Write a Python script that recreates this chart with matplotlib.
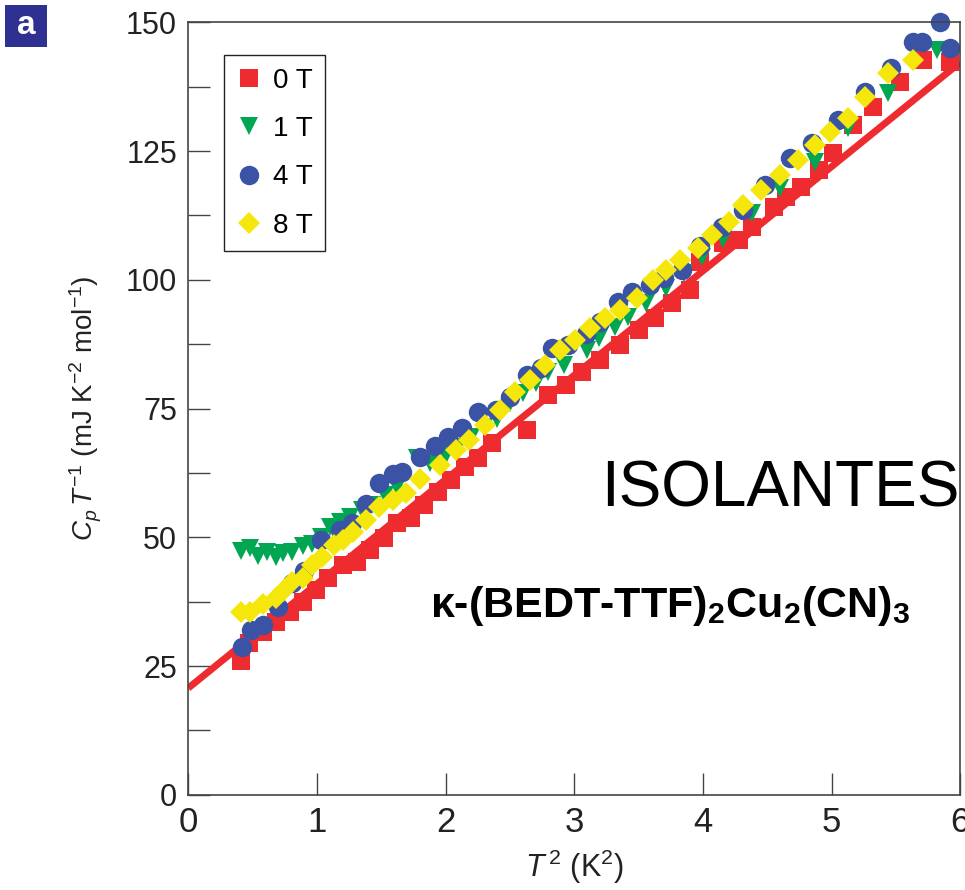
import matplotlib
matplotlib.use("Agg")
import matplotlib.pyplot as plt
import numpy as np
from matplotlib.lines import Line2D
from matplotlib.patches import Rectangle

plt.rcParams['font.family'] = ['Liberation Sans', 'DejaVu Sans']
plt.rcParams['mathtext.fontset'] = 'custom'
plt.rcParams['mathtext.rm'] = 'Liberation Sans'
plt.rcParams['mathtext.it'] = 'Liberation Sans:italic'
plt.rcParams['mathtext.bf'] = 'Liberation Sans:bold'

# ---- data (T^2 in K^2, Cp/T in mJ K^-2 mol^-1) ----
x_0T = [0.41, 0.47, 0.58, 0.68, 0.79, 0.89, 0.99, 1.09, 1.20, 1.31, 1.41, 1.52, 1.62, 1.73,
        1.83, 1.94, 2.04, 2.15, 2.25, 2.36, 2.63, 2.80, 2.94, 3.06, 3.20, 3.36, 3.50, 3.63,
        3.76, 3.90, 3.98, 4.16, 4.28, 4.38, 4.55, 4.65, 4.76, 4.90, 5.01, 5.17, 5.32, 5.53,
        5.71, 5.92]
y_0T = [26.0, 29.5, 31.6, 33.6, 35.5, 37.5, 39.8, 42.1, 44.6, 45.2, 47.5, 49.9, 52.8, 53.8,
        56.3, 58.8, 61.1, 63.6, 65.4, 68.3, 70.8, 77.6, 79.6, 82.1, 84.4, 87.3, 90.2, 92.6,
        95.5, 98.0, 103.4, 107.1, 107.8, 110.2, 114.1, 116.0, 118.0, 121.3, 124.6, 130.0,
        133.5, 138.4, 142.6, 142.2]

x_1T = [0.41, 0.48, 0.54, 0.61, 0.68, 0.74, 0.81, 0.89, 0.96, 1.03, 1.10, 1.18, 1.26, 1.35,
        1.43, 1.53, 1.62, 1.78, 1.88, 2.00, 2.10, 2.20, 2.30, 2.40, 2.50, 2.60, 2.70, 2.80,
        2.92, 3.10, 3.19, 3.32, 3.42, 3.56, 3.71, 3.85, 3.99, 4.16, 4.38, 4.60, 4.87, 5.13,
        5.44, 5.82]
y_1T = [47.3, 47.9, 46.4, 47.1, 46.2, 47.0, 47.2, 48.3, 48.7, 50.0, 52.0, 53.0, 54.0, 55.3,
        56.3, 58.2, 59.8, 65.4, 64.4, 66.0, 67.5, 69.5, 71.5, 73.0, 76.0, 78.0, 80.0, 82.0,
        83.4, 86.4, 88.7, 90.9, 92.8, 95.5, 98.4, 101.3, 104.5, 108.0, 112.9, 117.8, 122.8,
        129.4, 136.2, 144.6]

x_4T = [0.42, 0.49, 0.58, 0.70, 0.81, 0.90, 1.03, 1.18, 1.27, 1.38, 1.48, 1.59, 1.66, 1.80,
        1.92, 2.02, 2.13, 2.25, 2.39, 2.50, 2.63, 2.74, 2.83, 2.95, 3.09, 3.20, 3.34, 3.45,
        3.59, 3.70, 3.84, 3.98, 4.15, 4.31, 4.48, 4.68, 4.85, 5.05, 5.26, 5.46, 5.63, 5.70,
        5.84, 5.92]
y_4T = [28.7, 32.0, 33.0, 36.5, 41.1, 43.5, 49.5, 51.4, 52.8, 56.5, 60.5, 62.3, 62.7, 65.5,
        67.7, 69.5, 71.2, 74.3, 74.7, 77.2, 81.5, 82.9, 86.7, 87.3, 89.5, 91.8, 95.7, 97.6,
        99.0, 100.3, 101.9, 106.5, 110.2, 113.5, 118.4, 123.6, 126.5, 131.0, 136.4, 141.1,
        146.1, 146.1, 150.0, 145.0]

x_8T = [0.41, 0.48, 0.58, 0.68, 0.74, 0.81, 0.89, 0.96, 1.04, 1.13, 1.20, 1.28, 1.38, 1.48,
        1.59, 1.69, 1.80, 1.96, 2.08, 2.18, 2.31, 2.42, 2.54, 2.66, 2.77, 2.89, 3.01, 3.12,
        3.24, 3.36, 3.49, 3.61, 3.71, 3.82, 3.96, 4.07, 4.20, 4.31, 4.45, 4.60, 4.74, 4.87,
        4.99, 5.13, 5.26, 5.44, 5.63]
y_8T = [35.5, 35.5, 37.0, 38.2, 39.5, 41.3, 42.1, 44.6, 46.2, 48.5, 49.5, 51.0, 53.4, 55.9,
        57.2, 58.6, 61.3, 64.0, 67.0, 68.9, 71.8, 74.7, 78.2, 80.5, 83.4, 86.4, 88.3, 90.6,
        92.6, 94.1, 96.4, 99.9, 101.9, 103.8, 106.2, 108.7, 111.2, 114.5, 117.4, 120.3,
        123.2, 126.1, 128.7, 131.4, 135.5, 140.1, 142.6]

fit_x = [0.0, 6.0]
fit_y = [20.7, 142.2]

labels = ['0 T', '1 T', '4 T', '8 T']
colors = ['#ee2b2f', '#00a651', '#3a53a4', '#f5e60c']
markers = ['s', 'v', 'o', 'D']
sizes = [13, 13, 14, 11]

fig = plt.figure(figsize=(9.65, 8.9), dpi=100)
ax = fig.add_axes([0.195, 0.107, 0.8, 0.868])

series = [(x_0T, y_0T), (x_1T, y_1T), (x_4T, y_4T), (x_8T, y_8T)]
for i, ((xs, ys), c, m, s) in enumerate(zip(series, colors, markers, sizes)):
    ax.plot(xs, ys, linestyle='none', marker=m, markersize=s, color=c,
            markeredgewidth=0, clip_on=False)
    if i == 0:
        ax.plot(fit_x, fit_y, color=c, linewidth=5, solid_capstyle='butt')

ax.set_xlim(0, 6)
ax.set_ylim(0, 150)
ax.set_xticks(range(0, 7))
ax.set_yticks([0, 25, 50, 75, 100, 125, 150])
ax.set_yticks(np.arange(12.5, 150, 25), minor=True)
ax.tick_params(axis='both', which='both', direction='in', length=16, width=1.0,
               colors='#444444', labelcolor='#222222')
ax.tick_params(axis='y', which='major', labelsize=22, pad=8)
ax.tick_params(axis='x', which='major', labelsize=25, pad=8)
for sp in ax.spines.values():
    sp.set_color('#444444')
    sp.set_linewidth(1.2)

ax.set_xlabel(r'$T^{\,2}$ (K$^{2}$)', fontsize=22, color='#222222', labelpad=6)
ax.set_ylabel(r'$C_p\,T^{-1}$ (mJ K$^{-2}$ mol$^{-1}$)', fontsize=20, color='#222222',
              labelpad=16)

handles = [Line2D([], [], linestyle='none', marker=m, markersize=s, color=c,
                  markeredgewidth=0) for c, m, s in zip(colors, markers, sizes)]
leg = ax.legend(handles, labels, loc='upper left', bbox_to_anchor=(0.047, 0.957),
                frameon=True, fancybox=False, edgecolor='#222222', framealpha=1,
                fontsize=20, handlelength=0.9, handletextpad=0.4, labelspacing=0.8,
                borderpad=0.45, borderaxespad=0)
leg.get_frame().set_linewidth(1.0)

ax.text(0.535, 0.395, 'ISOLANTES', transform=ax.transAxes, fontsize=46,
        color='black', ha='left', va='center')
ax.text(0.313, 0.245, r'$\mathbf{\kappa}$-(BEDT-TTF)$_\mathbf{2}$Cu$_\mathbf{2}$(CN)$_\mathbf{3}$',
        transform=ax.transAxes, fontsize=31, fontweight='bold', color='black',
        ha='left', va='center')

fig.patches.append(Rectangle((5 / 965, 1 - 47 / 890), 42 / 965, 42 / 890,
                             transform=fig.transFigure, facecolor='#2e3192',
                             edgecolor='none'))
fig.text(26 / 965, 1 - 25 / 890, 'a', fontsize=24, fontweight='bold', color='white',
         ha='center', va='center')

fig.savefig('out.png', dpi=100)
